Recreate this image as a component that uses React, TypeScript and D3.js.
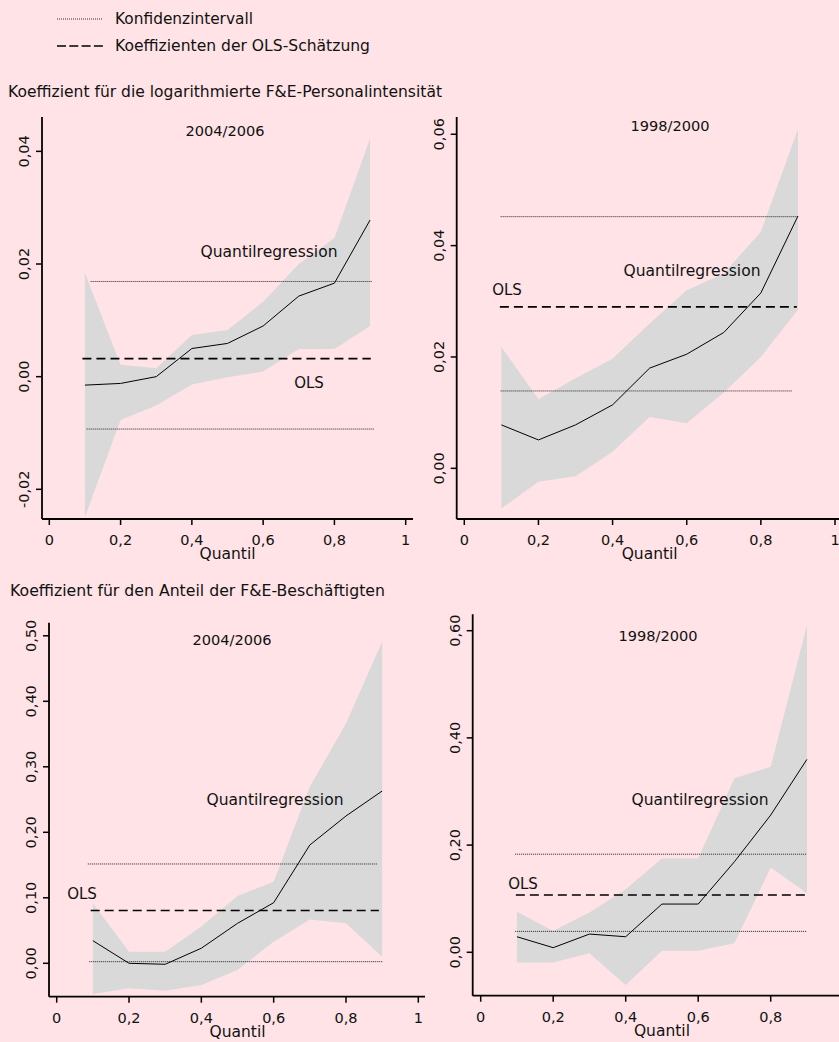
import React from "react";
import * as d3 from "d3";

// ---------- DATA ----------
const quantiles = [0.1, 0.2, 0.3, 0.4, 0.5, 0.6, 0.7, 0.8, 0.9];
const xTickValues = [0, 0.2, 0.4, 0.6, 0.8, 1];
const xTickLabels = ["0", "0,2", "0,4", "0,6", "0,8", "1"];

// Panel A: log R&D personnel intensity, 2004/2006
const a_coef = [-0.0015, -0.0012, 0.0, 0.005, 0.0059, 0.009, 0.0143, 0.0166, 0.0278];
const a_upper = [0.0184, 0.0021, 0.0015, 0.0074, 0.0083, 0.0133, 0.02, 0.0246, 0.0423];
const a_lower = [-0.0249, -0.0077, -0.0051, -0.0014, -0.0001, 0.0009, 0.0049, 0.0049, 0.009];
const a_ols = 0.0032;
const a_olsRange = [0.093, 0.902];
const a_ciHigh = 0.0169;
const a_ciHighRange = [0.116, 0.905];
const a_ciLow = -0.0093;
const a_ciLowRange = [0.105, 0.911];
const a_yTicks = [-0.02, 0, 0.02, 0.04];
const a_yTickLabels = ["-0,02", "0,00", "0,02", "0,04"];
const a_yDomain = [-0.02527, 0.0461];

// Panel B: log R&D personnel intensity, 1998/2000
const b_coef = [0.0078, 0.0051, 0.0078, 0.0114, 0.018, 0.0205, 0.0244, 0.0315, 0.0453];
const b_upper = [0.0218, 0.0124, 0.0162, 0.0197, 0.026, 0.032, 0.035, 0.0425, 0.0609];
const b_lower = [-0.0072, -0.0024, -0.0014, 0.003, 0.0092, 0.0081, 0.0136, 0.02, 0.0285];
const b_ols = 0.029;
const b_olsRange = [0.096, 0.897];
const b_ciHigh = 0.0452;
const b_ciHighRange = [0.098, 0.901];
const b_ciLow = 0.0139;
const b_ciLowRange = [0.098, 0.883];
const b_yTicks = [0, 0.02, 0.04, 0.06];
const b_yTickLabels = ["0,00", "0,02", "0,04", "0,06"];
const b_yDomain = [-0.0091, 0.0631];

// Panel C: share of R&D employees, 2004/2006
const c_coef = [0.0345, 0.0, -0.0015, 0.023, 0.061, 0.0925, 0.1806, 0.2249, 0.263];
const c_upper = [0.0916, 0.0178, 0.0178, 0.056, 0.1027, 0.1246, 0.2696, 0.366, 0.491];
const c_lower = [-0.0469, -0.038, -0.0418, -0.033, -0.0102, 0.033, 0.067, 0.061, 0.0101];
const c_ols = 0.0805;
const c_olsRange = [0.094, 0.891];
const c_ciHigh = 0.1516;
const c_ciHighRange = [0.086, 0.888];
const c_ciLow = 0.0025;
const c_ciLowRange = [0.09, 0.903];
const c_yTicks = [0, 0.1, 0.2, 0.3, 0.4, 0.5];
const c_yTickLabels = ["0,00", "0,10", "0,20", "0,30", "0,40", "0,50"];
const c_yDomain = [-0.051, 0.52];

// Panel D: share of R&D employees, 1998/2000
const d_coef = [0.029, 0.0086, 0.034, 0.029, 0.09, 0.09, 0.169, 0.256, 0.36];
const d_upper = [0.0757, 0.04, 0.074, 0.1175, 0.175, 0.175, 0.3246, 0.346, 0.61];
const d_lower = [-0.019, -0.019, -0.002, -0.061, 0.003, 0.003, 0.017, 0.158, 0.11];
const d_ols = 0.107;
const d_olsRange = [0.097, 0.904];
const d_ciHigh = 0.183;
const d_ciHighRange = [0.095, 0.899];
const d_ciLow = 0.039;
const d_ciLowRange = [0.095, 0.899];
const d_yTicks = [0, 0.2, 0.4, 0.6];
const d_yTickLabels = ["0,00", "0,20", "0,40", "0,60"];
const d_yDomain = [-0.081, 0.6306];

const legendCI = "Konfidenzintervall";
const legendOLS = "Koeffizienten der OLS-Schätzung";
const sectionTitleTop = "Koeffizient für die logarithmierte F&E-Personalintensität";
const sectionTitleBottom = "Koeffizient für den Anteil der F&E-Beschäftigten";
const periodA = "2004/2006";
const periodB = "1998/2000";
const xAxisTitle = "Quantil";
const qrLabel = "Quantilregression";
const olsLabel = "OLS";

// ---------- STYLE ----------
const W = 839;
const H = 1042;
const BG = "#FFE3E6";
const BAND = "#D9D9D9";
const FONT = "'DejaVu Sans', sans-serif";

type PanelProps = {
  coef: number[];
  upper: number[];
  lower: number[];
  ols: number;
  olsRange: number[];
  ciHigh: number;
  ciHighRange: number[];
  ciLow: number;
  ciLowRange: number[];
  yTicks: number[];
  yTickLabels: string[];
  yDomain: number[];
  axisLeft: number;
  axisTop: number;
  axisBottom: number;
  axisRight: number;
  x0: number;
  x1: number;
  period: string;
  periodPos: [number, number];
  qrPos: [number, number];
  olsPos: [number, number];
};

function Panel(p: PanelProps) {
  const x = d3.scaleLinear().domain([0, 1]).range([p.x0, p.x1]);
  const y = d3.scaleLinear().domain(p.yDomain).range([p.axisBottom, p.axisTop]);
  const rows = quantiles.map((q, i) => ({ q, c: p.coef[i], u: p.upper[i], l: p.lower[i] }));
  const area = d3
    .area<any>()
    .x((d) => x(d.q))
    .y0((d) => y(d.l))
    .y1((d) => y(d.u));
  const line = d3
    .line<any>()
    .x((d) => x(d.q))
    .y((d) => y(d.c));
  const visibleTicks = xTickValues
    .map((v, i) => ({ v, label: xTickLabels[i] }))
    .filter((t) => x(t.v) + 4 <= W);
  return (
    <g>
      <path d={area(rows) || ""} fill={BAND} stroke="none" />
      <line
        x1={x(p.ciHighRange[0])}
        x2={x(p.ciHighRange[1])}
        y1={y(p.ciHigh)}
        y2={y(p.ciHigh)}
        stroke="#222"
        strokeWidth={1}
        strokeDasharray="1,1"
      />
      <line
        x1={x(p.ciLowRange[0])}
        x2={x(p.ciLowRange[1])}
        y1={y(p.ciLow)}
        y2={y(p.ciLow)}
        stroke="#222"
        strokeWidth={1}
        strokeDasharray="1,1"
      />
      <line
        x1={x(p.olsRange[0])}
        x2={x(p.olsRange[1])}
        y1={y(p.ols)}
        y2={y(p.ols)}
        stroke="#000"
        strokeWidth={1.6}
        strokeDasharray="9,5"
      />
      <path d={line(rows) || ""} fill="none" stroke="#000" strokeWidth={1} />
      {/* axes */}
      <line x1={p.axisLeft} x2={p.axisLeft} y1={p.axisTop} y2={p.axisBottom} stroke="#000" strokeWidth={1.8} />
      <line x1={p.axisLeft} x2={p.axisRight} y1={p.axisBottom} y2={p.axisBottom} stroke="#000" strokeWidth={1.8} />
      {visibleTicks.map((t, i) => (
        <g key={"xt" + i}>
          <line x1={x(t.v)} x2={x(t.v)} y1={p.axisBottom} y2={p.axisBottom + 6} stroke="#000" strokeWidth={1.5} />
          <text
            x={x(t.v)}
            y={p.axisBottom + 21}
            textAnchor="middle"
            dominantBaseline="central"
            fontSize={14.5}
            fontFamily={FONT}
            fill="#111"
          >
            {t.label}
          </text>
        </g>
      ))}
      {p.yTicks.map((v, i) => (
        <g key={"yt" + i}>
          <line x1={p.axisLeft - 6} x2={p.axisLeft} y1={y(v)} y2={y(v)} stroke="#000" strokeWidth={1.5} />
          <text
            transform={`translate(${p.axisLeft - 18},${y(v)}) rotate(-90)`}
            textAnchor="middle"
            dominantBaseline="central"
            fontSize={14.5}
            fontFamily={FONT}
            fill="#111"
          >
            {p.yTickLabels[i]}
          </text>
        </g>
      ))}
      <text
        x={(x(0.4) + x(0.6)) / 2}
        y={p.axisBottom + 35}
        textAnchor="middle"
        dominantBaseline="central"
        fontSize={15.5}
        fontFamily={FONT}
        fill="#111"
      >
        {xAxisTitle}
      </text>
      <text
        x={p.periodPos[0]}
        y={p.periodPos[1]}
        textAnchor="middle"
        dominantBaseline="central"
        fontSize={14}
        fontFamily={FONT}
        fill="#111"
        textLength={79}
        lengthAdjust="spacingAndGlyphs"
      >
        {p.period}
      </text>
      <text
        x={p.qrPos[0]}
        y={p.qrPos[1]}
        textAnchor="middle"
        dominantBaseline="central"
        fontSize={15}
        fontFamily={FONT}
        fill="#111"
        textLength={137}
        lengthAdjust="spacingAndGlyphs"
      >
        {qrLabel}
      </text>
      <text
        x={p.olsPos[0]}
        y={p.olsPos[1]}
        textAnchor="middle"
        dominantBaseline="central"
        fontSize={15}
        fontFamily={FONT}
        fill="#111"
      >
        {olsLabel}
      </text>
    </g>
  );
}

export default function App() {
  return (
    <svg
      width={W}
      height={H}
      style={{ position: "absolute", left: 0, top: 0, display: "block" }}
    >
      <rect x={0} y={0} width={W} height={H} fill={BG} />
      {/* legend */}
      <line x1={57} x2={103} y1={19} y2={19} stroke="#333" strokeWidth={1} strokeDasharray="1,1" />
      <text x={115} y={19} dominantBaseline="central" fontSize={15} fontFamily={FONT} fill="#111" textLength={138} lengthAdjust="spacingAndGlyphs">
        {legendCI}
      </text>
      <line x1={57} x2={103} y1={46} y2={46} stroke="#000" strokeWidth={1.6} strokeDasharray="9,3.3" />
      <text x={115} y={46} dominantBaseline="central" fontSize={15} fontFamily={FONT} fill="#111" textLength={255} lengthAdjust="spacingAndGlyphs">
        {legendOLS}
      </text>
      <text x={8} y={92} dominantBaseline="central" fontSize={15} fontFamily={FONT} fill="#111" textLength={434} lengthAdjust="spacingAndGlyphs">
        {sectionTitleTop}
      </text>
      <text x={10} y={591} dominantBaseline="central" fontSize={15} fontFamily={FONT} fill="#111" textLength={375} lengthAdjust="spacingAndGlyphs">
        {sectionTitleBottom}
      </text>

      <Panel
        coef={a_coef}
        upper={a_upper}
        lower={a_lower}
        ols={a_ols}
        olsRange={a_olsRange}
        ciHigh={a_ciHigh}
        ciHighRange={a_ciHighRange}
        ciLow={a_ciLow}
        ciLowRange={a_ciLowRange}
        yTicks={a_yTicks}
        yTickLabels={a_yTickLabels}
        yDomain={a_yDomain}
        axisLeft={42}
        axisTop={117}
        axisBottom={519}
        axisRight={413}
        x0={49.3}
        x1={405.7}
        period={periodA}
        periodPos={[225, 131]}
        qrPos={[269, 252]}
        olsPos={[309, 383]}
      />
      <Panel
        coef={b_coef}
        upper={b_upper}
        lower={b_lower}
        ols={b_ols}
        olsRange={b_olsRange}
        ciHigh={b_ciHigh}
        ciHighRange={b_ciHighRange}
        ciLow={b_ciLow}
        ciLowRange={b_ciLowRange}
        yTicks={b_yTicks}
        yTickLabels={b_yTickLabels}
        yDomain={b_yDomain}
        axisLeft={456.7}
        axisTop={117}
        axisBottom={519}
        axisRight={839}
        x0={464.3}
        x1={835}
        period={periodB}
        periodPos={[670, 126]}
        qrPos={[692, 271]}
        olsPos={[507, 290]}
      />
      <Panel
        coef={c_coef}
        upper={c_upper}
        lower={c_lower}
        ols={c_ols}
        olsRange={c_olsRange}
        ciHigh={c_ciHigh}
        ciHighRange={c_ciHighRange}
        ciLow={c_ciLow}
        ciLowRange={c_ciLowRange}
        yTicks={c_yTicks}
        yTickLabels={c_yTickLabels}
        yDomain={c_yDomain}
        axisLeft={49}
        axisTop={622.7}
        axisBottom={996.7}
        axisRight={425}
        x0={56.7}
        x1={418.3}
        period={periodA}
        periodPos={[232, 640]}
        qrPos={[275, 800]}
        olsPos={[82, 894]}
      />
      <Panel
        coef={d_coef}
        upper={d_upper}
        lower={d_lower}
        ols={d_ols}
        olsRange={d_olsRange}
        ciHigh={d_ciHigh}
        ciHighRange={d_ciHighRange}
        ciLow={d_ciLow}
        ciLowRange={d_ciLowRange}
        yTicks={d_yTicks}
        yTickLabels={d_yTickLabels}
        yDomain={d_yDomain}
        axisLeft={472.7}
        axisTop={614.3}
        axisBottom={995.7}
        axisRight={839}
        x0={480.7}
        x1={843.2}
        period={periodB}
        periodPos={[658, 636]}
        qrPos={[700, 800]}
        olsPos={[523, 884]}
      />
    </svg>
  );
}
